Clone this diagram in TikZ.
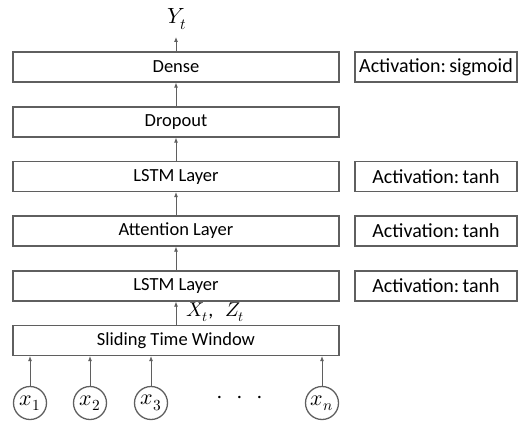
\documentclass[tikz,border=0pt]{standalone}
\usepackage{fontspec}
\setmainfont{Carlito}
\usepackage{unicode-math}
\setmathfont{Latin Modern Math}
\usetikzlibrary{arrows.meta}
\definecolor{edge}{RGB}{95,95,95}
\begin{document}
\begin{tikzpicture}[x=1pt,y=-1pt,
  layer/.style={draw=edge,line width=1.3pt,minimum width=326pt,minimum height=30pt,inner sep=0pt,font=\fontsize{18.5}{20}\selectfont},
  actbox/.style={draw=edge,line width=1.3pt,minimum width=162pt,minimum height=30pt,inner sep=0pt,font=\fontsize{20}{22}\selectfont},
  inp/.style={draw=edge,line width=1.3pt,circle,minimum size=33pt,inner sep=0pt,font=\fontsize{22}{24}\selectfont},
  conn/.style={draw=edge,line width=0.8pt,-{Latex[length=5pt,width=4pt]}}]
\useasboundingbox (0,0) rectangle (524,422);
\node[layer] (dense) at (176,67) {Dense};
\node[layer] (drop) at (176,122) {Dropout};
\node[layer] (lstm2) at (176,176.5) {LSTM Layer};
\node[layer] (att) at (176,231) {Attention Layer};
\node[layer] (lstm1) at (176,286) {LSTM Layer};
\node[layer] (win) at (176,340.5) {Sliding Time Window};
\node[actbox] (a1) at (436,67) {Activation:\,sigmoid};
\node[actbox] (a2) at (436,176.5) {Activation:\,tanh};
\node[actbox] (a3) at (436,231) {Activation:\,tanh};
\node[actbox] (a4) at (436,286) {Activation:\,tanh};
\node[font=\fontsize{22}{24}\selectfont] (y) at (177,19) {$Y_t$};
\coordinate (ytip) at (176,37);
\node[inp] (x1) at (30,403) {$x_1$};
\node[inp] (x2) at (90,403) {$x_2$};
\node[inp] (x3) at (151,403) {$x_3$};
\node[inp] (xn) at (322,403) {$x_n$};
\node[font=\fontsize{24}{26}\selectfont,inner sep=0pt] (dots) at (240,400) {$\cdot$\hspace{13pt}$\cdot$\hspace{13pt}$\cdot$};
\node[font=\fontsize{20}{22}\selectfont,anchor=west,inner sep=0pt] (xz) at (186,312) {$X_t$,\hspace{12pt}$Z_t$};
\draw[conn] (dense.north) -- (ytip);
\draw[conn] (drop) -- (dense);
\draw[conn] (lstm2) -- (drop);
\draw[conn] (att) -- (lstm2);
\draw[conn] (lstm1) -- (att);
\draw[conn] (win) -- (lstm1);
\draw[conn] (x1) -- (x1 |- win.south);
\draw[conn] (x2) -- (x2 |- win.south);
\draw[conn] (x3) -- (x3 |- win.south);
\draw[conn] (xn) -- (xn |- win.south);
\end{tikzpicture}
\end{document}
